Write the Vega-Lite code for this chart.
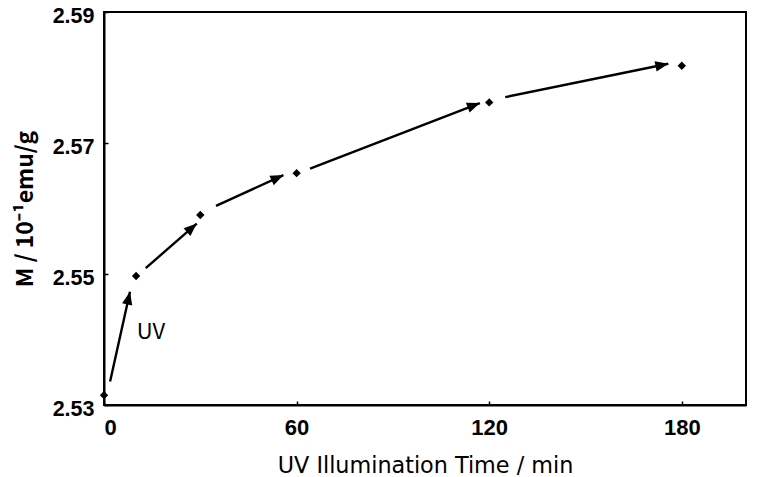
{
  "$schema": "https://vega.github.io/schema/vega-lite/v6.json",
  "width": 642,
  "height": 393,
  "autosize": {"type": "none"},
  "padding": {"left": 104, "top": 12, "right": 36, "bottom": 72},
  "background": "white",
  "config": {
    "view": {"stroke": "black", "strokeWidth": 2},
    "font": "Noto Sans CJK JP"
  },
  "datasets": {
    "measured": [
      {"t": 0, "m": 2.5315},
      {"t": 10, "m": 2.5497},
      {"t": 30, "m": 2.559},
      {"t": 60, "m": 2.5654},
      {"t": 120, "m": 2.5762},
      {"t": 180, "m": 2.5818}
    ],
    "steps": [
      {"t": 1.9, "m": 2.5336, "t2": 8.1, "m2": 2.5473},
      {"t": 13.0, "m": 2.5509, "t2": 28.9, "m2": 2.5577},
      {"t": 34.9, "m": 2.5604, "t2": 55.9, "m2": 2.5651},
      {"t": 64.2, "m": 2.5661, "t2": 117.1, "m2": 2.5761},
      {"t": 125.0, "m": 2.577, "t2": 175.8, "m2": 2.5821}
    ],
    "notes": [
      {"t": 14.6, "m": 2.5412, "label": "UV"}
    ]
  },
  "layer": [
    {
      "data": {"name": "steps"},
      "mark": {"type": "rule", "color": "black", "strokeWidth": 2.4},
      "encoding": {
        "x": {
          "field": "t", "type": "quantitative",
          "scale": {"domain": [0, 200], "nice": false, "zero": false},
          "axis": {
            "title": "UV Illumination Time / min",
            "values": [0, 60, 120, 180],
            "grid": false,
            "domainColor": "black", "domainWidth": 2,
            "tickColor": "black", "tickSize": -4, "tickWidth": 1.5,
            "labelFont": "Liberation Sans", "labelFontSize": 22, "labelFontWeight": "bold",
            "labelColor": "black", "labelPadding": 16,
            "titleFont": "DejaVu Sans", "titleFontSize": 22.3, "titleFontWeight": "normal",
            "titleColor": "black", "titlePadding": 16
          }
        },
        "y": {
          "field": "m", "type": "quantitative",
          "scale": {"domain": [2.53, 2.59], "nice": false, "zero": false},
          "axis": {
            "title": "M / 10⁻¹emu/g",
            "values": [2.53, 2.55, 2.57, 2.59],
            "format": ".2f",
            "grid": false,
            "domainColor": "black", "domainWidth": 2,
            "tickColor": "black", "tickSize": -4, "tickWidth": 1.5,
            "labelFont": "Liberation Sans", "labelFontSize": 21.5, "labelFontWeight": "bold",
            "labelColor": "black", "labelPadding": 14, "labelOffset": 4,
            "titleFont": "Noto Sans CJK JP", "titleFontSize": 23, "titleFontWeight": "bold",
            "titleColor": "black", "titlePadding": 15
          }
        },
        "x2": {"field": "t2"},
        "y2": {"field": "m2"}
      }
    },
    {
      "data": {"name": "steps"},
      "transform": [
        {"calculate": "atan2((datum.t2 - datum.t) * 642 / 200, (datum.m2 - datum.m) * 393 / 0.06) * 180 / PI", "as": "heading"}
      ],
      "mark": {
        "type": "point",
        "shape": "M0,0L0.6,1.5L-0.6,1.5Z",
        "filled": true,
        "color": "black",
        "opacity": 1,
        "size": 300
      },
      "encoding": {
        "x": {"field": "t2", "type": "quantitative"},
        "y": {"field": "m2", "type": "quantitative"},
        "angle": {"field": "heading", "type": "quantitative", "scale": null}
      }
    },
    {
      "data": {"name": "measured"},
      "mark": {"type": "point", "shape": "diamond", "filled": true, "color": "black", "opacity": 1, "size": 70},
      "encoding": {
        "x": {"field": "t", "type": "quantitative"},
        "y": {"field": "m", "type": "quantitative"}
      }
    },
    {
      "data": {"name": "notes"},
      "mark": {"type": "text", "font": "Noto Sans CJK JP", "fontSize": 22, "color": "black", "align": "center", "baseline": "middle"},
      "encoding": {
        "x": {"field": "t", "type": "quantitative"},
        "y": {"field": "m", "type": "quantitative"},
        "text": {"field": "label"}
      }
    }
  ]
}
